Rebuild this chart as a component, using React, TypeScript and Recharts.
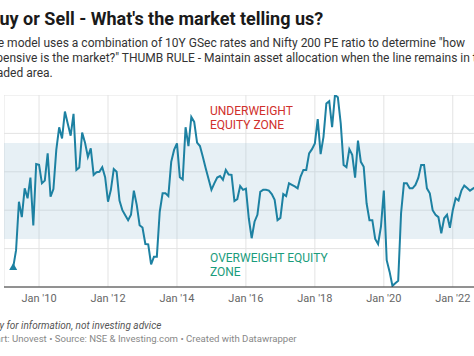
import React from "react";
import {
  LineChart,
  Line,
  XAxis,
  YAxis,
  CartesianGrid,
  ReferenceArea,
} from "recharts";

// monthly readings, first value = Apr 2009 (month index 3, counting from Jan 2009 = 0)
const START_MONTH = 3;
const VALUES = [
  0.51, 0.96, 2.22, 1.82, 2.57, 2.31, 2.85, 1.6, 3.2,
  3.18, 2.7, 2.77, 3.48, 2.35, 2.55, 3.57, 4.16, 3.87, 4.57, 4.25, 3.94,
  4.51, 3.05, 3.11, 4.02, 3.76, 3.39, 3.61, 2.92, 2.99, 3.0, 3.12, 2.86,
  2.22, 2.53, 3.07, 3.0, 2.25, 2.0, 1.87, 1.74, 1.88, 2.51, 2.14, 1.61,
  1.55, 1.12, 1.11, 0.59, 0.79, 0.79, 1.96, 2.44, 2.44, 2.37, 3.26, 3.57,
  3.74, 2.86, 2.8, 4.16, 3.67, 4.43, 4.3, 3.76, 3.67, 3.39, 3.09, 2.81,
  2.53, 2.7, 2.85, 2.89, 2.79, 3.05, 2.93, 2.92, 2.24, 2.29, 2.63, 2.53,
  2.56, 1.79, 1.27, 1.7, 1.88, 2.48, 2.53, 2.53, 2.51, 2.42, 2.27, 1.74,
  1.8, 2.42, 2.37, 2.7, 2.66, 2.62, 2.57, 2.87, 3.05, 3.05, 3.48, 3.59,
  3.74, 4.37, 3.46, 3.91, 4.78, 4.84, 4.16, 5.0, 4.94, 4.26, 3.18, 3.12,
  3.59, 3.44, 2.85, 3.81, 3.26, 3.13, 2.18, 1.74, 1.74, 1.25, 1.12, 1.57,
  2.51, 0.7, 0.4, 0.03, 0.1, 0.16, 1.92, 2.7, 2.7, 2.57, 2.57, 2.66,
  2.84, 3.18, 3.18, 2.57, 2.44, 2.0, 1.88, 1.82, 1.4, 1.79, 1.88, 1.54,
  2.0, 2.31, 2.25, 2.51, 2.64, 2.58, 2.51, 2.56, 2.61, 2.62,
];

const X_TICKS = [12, 36, 60, 84, 108, 132, 156];
const X_TICK_LABELS = ["Jan '10", "Jan '12", "Jan '14", "Jan '16", "Jan '18", "Jan '20", "Jan '22"];
const Y_TICKS = [0, 1, 2, 3, 4, 5];
const BAND = [1.25, 3.75];

const data = VALUES.map((v, i) => ({ m: START_MONTH + i, v }));

const X_MIN = -0.2;
const X_MAX = 170;
const PX_PER_MONTH = 2.875;
const PLOT_H = 192;
const FONT = "Roboto, 'Noto Sans', sans-serif";

const StartDot = (props: any) => {
  const { cx, cy, index } = props;
  if (index !== 0) return <g key={"d" + index} />;
  return (
    <path
      key="start"
      d={`M${cx},${cy - 4.5} L${cx + 4},${cy + 2.5} L${cx - 4},${cy + 2.5} Z`}
      fill="#1d81a2"
    />
  );
};

export default function App() {
  const width = Math.round((X_MAX - X_MIN) * PX_PER_MONTH);
  return (
    <div
      style={{
        position: "absolute",
        left: 0,
        top: 0,
        width: 474,
        height: 356,
        overflow: "hidden",
        background: "#fff",
        fontFamily: FONT,
      }}
    >
      <div
        style={{
          position: "absolute",
          left: -12,
          top: 8,
          fontSize: 18,
          lineHeight: "22px",
          fontWeight: 700,
          color: "#1a1a1a",
          whiteSpace: "nowrap",
        }}
      >
        Buy or Sell - What's the market telling us?
      </div>
      <div
        style={{
          position: "absolute",
          left: -16,
          top: 36,
          fontSize: 12,
          lineHeight: "15px",
          color: "#333",
          whiteSpace: "nowrap",
        }}
      >
        The model uses a combination of 10Y GSec rates and Nifty 200 PE ratio to determine "how
        <br />
        expensive is the market?" THUMB RULE - Maintain asset allocation when the line remains in the
        <br />
        shaded area.
      </div>

      <div style={{ position: "absolute", left: 4, top: 95 }}>
        <LineChart
          width={width}
          height={PLOT_H + 30}
          data={data}
          margin={{ top: 0, right: 0, bottom: 0, left: 0 }}
        >
          <ReferenceArea
            y1={BAND[0]}
            y2={BAND[1]}
            fill="#9ec5d8"
            fillOpacity={0.25}
            stroke="none"
          />
          <CartesianGrid stroke="#e3e3e3" strokeWidth={1} />
          <XAxis
            dataKey="m"
            type="number"
            domain={[X_MIN, X_MAX]}
            ticks={X_TICKS}
            tickFormatter={(t: number) => X_TICK_LABELS[X_TICKS.indexOf(t)]}
            height={30}
            tickLine={false}
            tickSize={0}
            tickMargin={7}
            axisLine={{ stroke: "#333", strokeWidth: 1 }}
            tick={{ fill: "#666", fontSize: 11, fontFamily: FONT }}
            allowDataOverflow
          />
          <YAxis hide domain={[0, 5]} ticks={Y_TICKS} width={0} allowDataOverflow />
          <Line
            type="linear"
            dataKey="v"
            stroke="#1d81a2"
            strokeWidth={2}
            dot={StartDot}
            activeDot={false}
            isAnimationActive={false}
          />
        </LineChart>
      </div>

      <div
        style={{
          position: "absolute",
          left: 210,
          top: 104,
          fontSize: 12,
          lineHeight: "14px",
          color: "#d0302b",
          whiteSpace: "nowrap",
        }}
      >
        UNDERWEIGHT
        <br />
        EQUITY ZONE
      </div>
      <div
        style={{
          position: "absolute",
          left: 210,
          top: 252,
          fontSize: 12,
          lineHeight: "13.5px",
          color: "#1a9c7c",
          whiteSpace: "nowrap",
        }}
      >
        OVERWEIGHT EQUITY
        <br />
        ZONE
      </div>

      <div
        style={{
          position: "absolute",
          left: -15,
          top: 319,
          fontSize: 10,
          lineHeight: "13px",
          fontStyle: "italic",
          color: "#555",
          whiteSpace: "nowrap",
        }}
      >
        Only for information, not investing advice
      </div>
      <div
        style={{
          position: "absolute",
          left: -16,
          top: 333,
          fontSize: 9.6,
          lineHeight: "12px",
          color: "#888",
          whiteSpace: "nowrap",
        }}
      >
        Chart: Unovest • Source: NSE &amp; Investing.com • Created with Datawrapper
      </div>
    </div>
  );
}
